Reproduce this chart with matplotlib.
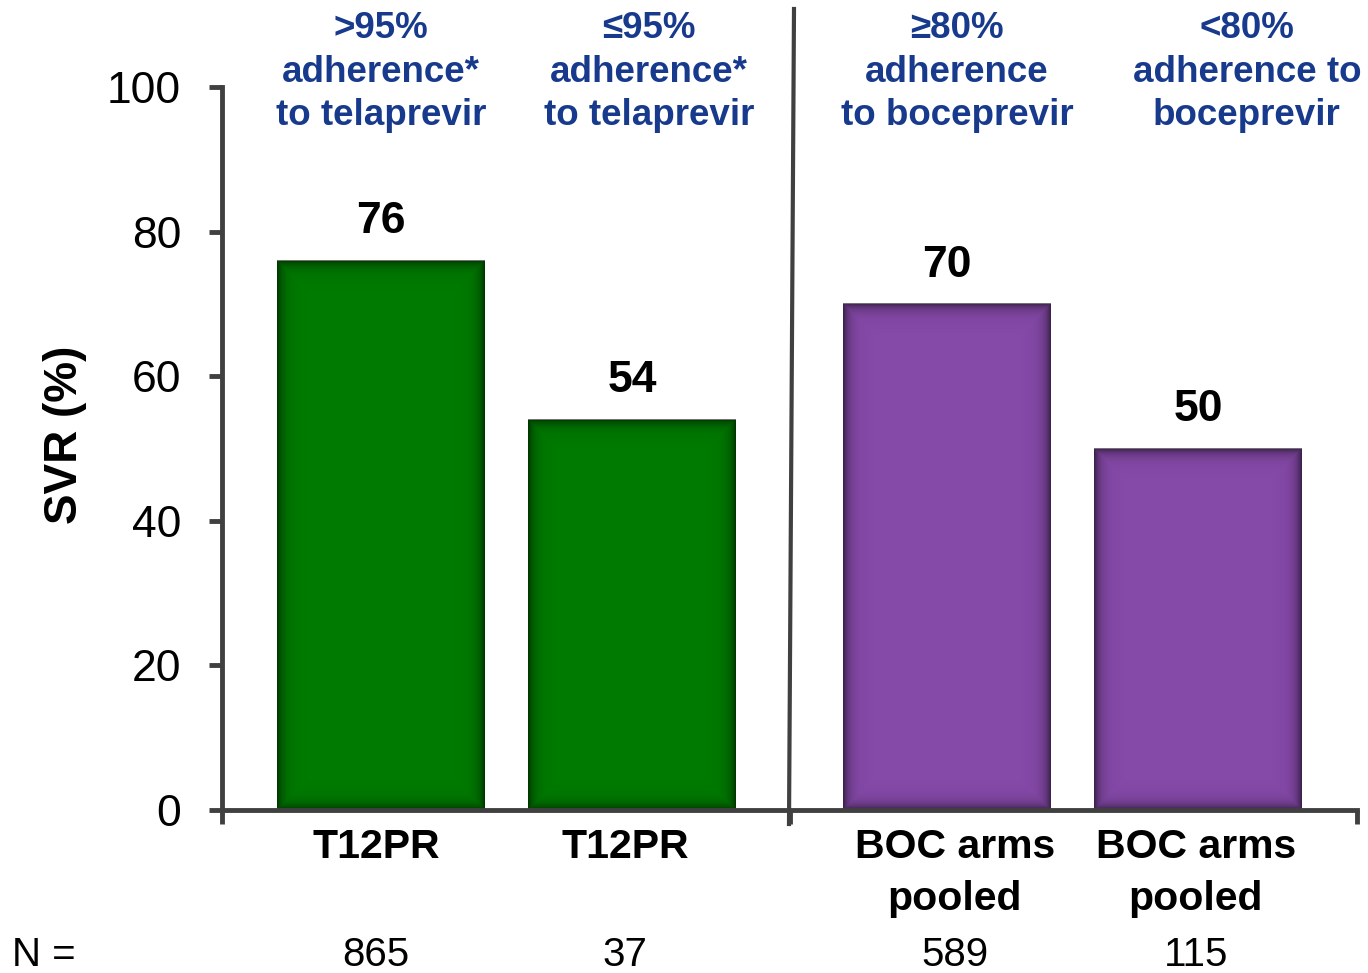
import numpy as np
import matplotlib
matplotlib.use("Agg")
import matplotlib.pyplot as plt
from matplotlib.transforms import blended_transform_factory
from matplotlib.lines import Line2D

plt.rcParams['font.family'] = ['Liberation Sans', 'DejaVu Sans']

# ---- data ----
categories = ["T12PR", "T12PR", "BOC arms\npooled", "BOC arms\npooled"]
svr_values = [76, 54, 70, 50]
n_values = ["865", "37", "589", "115"]
headers = [">95%\nadherence*\nto telaprevir",
           "\u226495%\nadherence*\nto telaprevir",
           "\u226580%\nadherence\nto boceprevir",
           "<80%\nadherence to\nboceprevir"]
bar_colors = ["#007A00", "#007A00", "#8549A8", "#8549A8"]
y_ticks = [0, 20, 40, 60, 80, 100]

# ---- layout ----
W, H = 1368, 973
fig = plt.figure(figsize=(W / 100, H / 100), dpi=100)
ax = fig.add_axes([222 / W, 1 - 810 / H, (1357 - 222) / W, (810 - 87) / H])

positions = np.array([0.0, 1.0, 2.25, 3.25])
label_pos = np.array([-0.02, 0.97, 2.282, 3.24])
header_pos = np.array([0.0, 1.066, 2.29, 3.443])
divider = 1.625
xlim = (-0.632, 3.881)
bar_w = 0.827

axis_col = "#404040"
navy = "#173A8C"

bars = ax.bar(positions, svr_values, width=bar_w, color=bar_colors,
              edgecolor="none", zorder=2)

ax.set_xlim(*xlim)
ax.set_ylim(0, 100)

# inner shadow along each bar edge
for rect in bars:
    x0, y0, w, h = rect.get_x(), rect.get_y(), rect.get_width(), rect.get_height()
    p0 = ax.transData.transform((x0, y0))
    p1 = ax.transData.transform((x0 + w, y0 + h))
    nx = max(int(round(p1[0] - p0[0])), 2)
    ny = max(int(round(p1[1] - p0[1])), 2)
    ix = np.arange(nx)
    iy = np.arange(ny)
    dx = np.minimum(ix, nx - 1 - ix).astype(float)
    dy = np.minimum(iy, ny - 1 - iy).astype(float)
    d = np.minimum(dx[None, :], dy[:, None])
    alpha = 0.55 * np.exp(-d / 6.0)
    img = np.zeros((ny, nx, 4))
    img[..., 3] = alpha
    ax.imshow(img, extent=(x0, x0 + w, y0, y0 + h), aspect='auto',
              interpolation='bilinear', zorder=3)

ax.set_xlim(*xlim)
ax.set_ylim(0, 100)

# value labels
for x, v in zip(positions, svr_values):
    ax.annotate(str(v), (x, v), xytext=(0, 28), textcoords='offset points',
                ha='center', va='center', fontsize=32, fontweight='bold',
                color='black', zorder=5)

# spines and ticks
for s in ['top', 'right']:
    ax.spines[s].set_visible(False)
for s in ['left', 'bottom']:
    ax.spines[s].set_color(axis_col)
    ax.spines[s].set_linewidth(3.5)
    ax.spines[s].set_zorder(6)

ax.set_yticks(y_ticks)
ax.set_yticklabels([str(t) for t in y_ticks])
ax.tick_params(axis='y', direction='out', length=9.5, width=3.5,
               color=axis_col, labelsize=32, pad=20)

ax.set_xticks([xlim[0], divider, xlim[1]])
ax.set_xticklabels(["", "", ""])
ax.tick_params(axis='x', which='major', direction='out', length=10,
               width=3.5, color=axis_col)
ax.set_xticks(label_pos, minor=True)
ax.set_xticklabels(categories, minor=True, fontsize=29.5, fontweight='bold',
                   linespacing=1.47)
ax.tick_params(axis='x', which='minor', length=0, pad=13)

# divider between the two drug groups
fig.add_artist(Line2D([794 / W, 789 / W], [1 - 9 / H, 1 - 824 / H],
                      transform=fig.transFigure, color=axis_col,
                      linewidth=3.0, zorder=7))

# y-axis title
fig.text(65 / W, 1 - 435 / H, "SVR (%)", rotation=90, ha='center',
         va='center', fontsize=33, fontweight='bold')

# group headers
tr = blended_transform_factory(ax.transData, fig.transFigure)
for x, t in zip(header_pos, headers):
    fig.text(x, 1 - 72 / H, t, transform=tr, ha='center', va='center',
             multialignment='center', fontsize=26.5, fontweight='bold',
             color=navy, linespacing=1.33)

# sample sizes
fig.text(12 / W, 1 - 955 / H, "N =", ha='left', va='center', fontsize=29)
for x, n in zip(label_pos, n_values):
    fig.text(x, 1 - 955 / H, n, transform=tr, ha='center', va='center',
             fontsize=29)

fig.savefig("out.png", dpi=100, facecolor='white')
